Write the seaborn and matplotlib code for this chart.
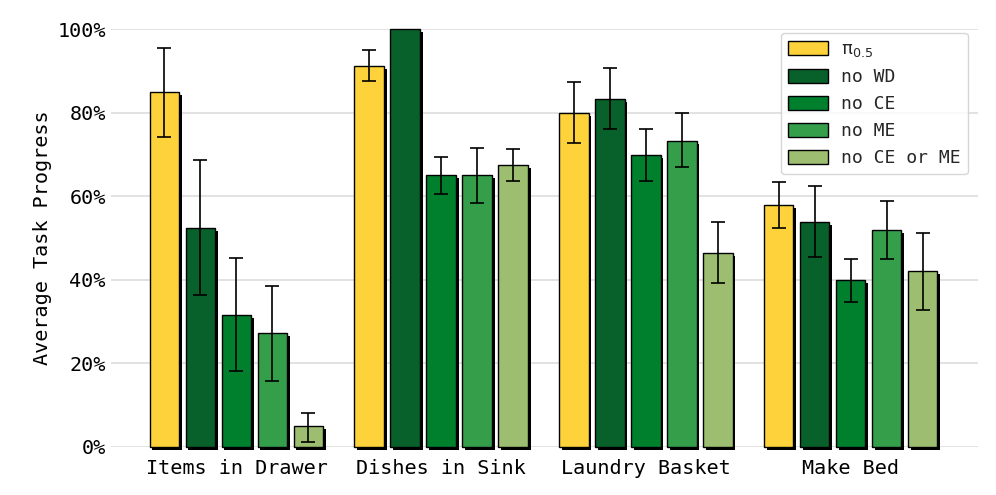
import numpy as np
import pandas as pd
import matplotlib
matplotlib.use("Agg")
import matplotlib.pyplot as plt
import matplotlib.patheffects as pe
from matplotlib.ticker import PercentFormatter
import seaborn as sns

tasks = ["Items in Drawer", "Dishes in Sink", "Laundry Basket", "Make Bed"]
methods = ["π$_{0.5}$", "no WD", "no CE", "no ME", "no CE or ME"]
colors = ["#fdd23a", "#08602a", "#007f2d", "#359e4b", "#9dbe70"]

# mean progress (%) per method, one value per task
pi05 = [84.9, 91.1, 79.9, 57.9]
no_wd = [52.4, 100.0, 83.3, 53.8]
no_ce = [31.6, 65.0, 69.9, 40.0]
no_me = [27.3, 65.0, 73.2, 51.9]
no_ce_me = [5.0, 67.5, 46.4, 42.1]

# error bar ends (low, high)
pi05_lo = [74.2, 87.6, 72.7, 52.4]
pi05_hi = [95.5, 95.0, 87.3, 63.4]
no_wd_lo = [36.4, 100.0, 76.1, 45.5]
no_wd_hi = [68.7, 100.0, 90.7, 62.4]
no_ce_lo = [18.2, 60.5, 63.6, 34.7]
no_ce_hi = [45.2, 69.4, 76.1, 45.0]
no_me_lo = [15.8, 58.4, 67.0, 45.0]
no_me_hi = [38.5, 71.5, 79.9, 58.9]
no_ce_me_lo = [1.2, 63.6, 39.2, 32.8]
no_ce_me_hi = [8.1, 71.3, 53.8, 51.2]

means = [pi05, no_wd, no_ce, no_me, no_ce_me]
lows = [pi05_lo, no_wd_lo, no_ce_lo, no_me_lo, no_ce_me_lo]
highs = [pi05_hi, no_wd_hi, no_ce_hi, no_me_hi, no_ce_me_hi]

rows = []
for m, vals, lo, hi in zip(methods, means, lows, highs):
    for t, v, l, h in zip(tasks, vals, lo, hi):
        rows.append({"task": t, "method": m, "value": v / 100, "lo": l / 100, "hi": h / 100})
df = pd.DataFrame(rows)

sns.set_theme(style="whitegrid")
plt.rcParams["font.family"] = ["DejaVu Sans Mono", "DejaVu Sans"]

fig, ax = plt.subplots(figsize=(9.96, 4.95), dpi=100)
fig.subplots_adjust(left=0.111, right=0.982, bottom=0.097, top=0.941)

sns.barplot(data=df, x="task", y="value", hue="method", hue_order=methods,
            palette=colors, width=0.879, gap=0.18, errorbar=None,
            edgecolor="black", linewidth=1.0, saturation=1, ax=ax)

shadow = [pe.SimplePatchShadow(offset=(2, -2), shadow_rgbFace="black", alpha=1), pe.Normal()]
bar_containers = list(ax.containers)
for i, cont in enumerate(bar_containers):
    sub = df[df["method"] == methods[i]].set_index("task").loc[tasks]
    for bar, (_, r) in zip(cont, sub.iterrows()):
        bar.set_path_effects(shadow)
        bar.set_clip_on(False)
        if r["hi"] - r["lo"] > 0:
            xc = bar.get_x() + bar.get_width() / 2
            ax.errorbar(xc, r["value"], yerr=[[r["value"] - r["lo"]], [r["hi"] - r["value"]]],
                        fmt="none", ecolor="black", elinewidth=1.2, capsize=5, capthick=1.2, zorder=5)

ax.set_ylim(0, 1.0)
ax.set_xlim(-0.615, 3.623)
ax.yaxis.set_major_formatter(PercentFormatter(1.0, decimals=0))
ax.set_yticks([0, 0.2, 0.4, 0.6, 0.8, 1.0])
ax.grid(axis="x", visible=False)
ax.grid(axis="y", color="#dddddd", linewidth=1.2)
ax.set_axisbelow(True)
for s in ax.spines.values():
    s.set_visible(False)
ax.set_xlabel("")
ax.set_ylabel("Average Task Progress", fontsize=14.5, color="black")
ax.tick_params(axis="both", labelsize=14.5, colors="black", length=0)
ax.tick_params(axis="x", pad=9)

leg = ax.legend(loc="upper right", bbox_to_anchor=(0.992, 1.0), fontsize=13, frameon=True,
                edgecolor="#cccccc", fancybox=True, handlelength=2.2, handleheight=0.8,
                borderaxespad=0.2, handletextpad=0.7)
for h in leg.legend_handles:
    h.set_edgecolor("black")
    h.set_path_effects([])

fig.savefig("out.png", dpi=100)
